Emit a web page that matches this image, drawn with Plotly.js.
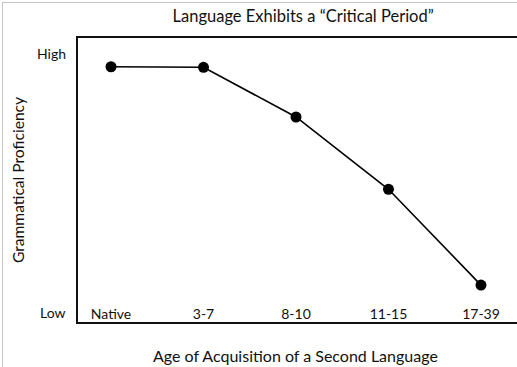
<!DOCTYPE html>
<html><head><meta charset="utf-8">
<script src="https://cdn.plot.ly/plotly-3.0.1.min.js"></script>
<style>
html,body{margin:0;padding:0;background:#fff;overflow:hidden;width:517px;height:367px;}
#frame{position:absolute;left:2px;top:2px;width:515px;height:365px;border-left:1px solid #c4c4c4;border-top:1px solid #c4c4c4;}
#chart{position:absolute;left:0;top:0;width:530px;height:367px;}
</style></head>
<body>
<div id="frame"></div>
<div id="chart"></div>
<script>
const ageGroups = ["Native", "3-7", "8-10", "11-15", "17-39"];
const proficiency = [9.47, 9.45, 7.53, 4.74, 1.04];
const yTickVals = [0, 10];
const yTickText = ["Low", "High"];

const font = "Lato, 'Open Sans', sans-serif";

const yLabels = yTickVals.map((v, i) => ({
  xref: "paper", yref: "y", x: 0, y: v,
  xanchor: "right", yanchor: "middle", xshift: -10,
  text: yTickText[i], showarrow: false,
  font: {family: font, size: 14, color: "#111"}
}));

const xTitle = {
  xref: "paper", yref: "paper", x: 0.482, y: 0, yshift: -33,
  xanchor: "center", yanchor: "middle",
  text: "Age of Acquisition of a Second Language", showarrow: false,
  font: {family: font, size: 16, color: "#111"}
};

Plotly.newPlot("chart", [{
  x: [0, 1, 2, 3, 4],
  y: proficiency,
  type: "scatter",
  mode: "lines+markers",
  line: {color: "#000", width: 1.6},
  marker: {color: "#000", size: 11},
  hoverinfo: "skip"
}], {
  width: 530, height: 367,
  margin: {l: 78, r: 0, t: 38, b: 45},
  paper_bgcolor: "rgba(0,0,0,0)",
  plot_bgcolor: "rgba(0,0,0,0)",
  showlegend: false,
  annotations: yLabels.concat([xTitle]),
  title: {text: "Language Exhibits a \u201cCritical Period\u201d", x: 0.572, xanchor: "center", y: 0.955, yanchor: "middle", font: {family: font, size: 16.5, color: "#111"}},
  xaxis: {
    range: [-0.357, 4.53],
    tickvals: [0, 1, 2, 3, 4],
    ticktext: ageGroups,
    ticklabelposition: "inside",
    ticks: "",
    showgrid: false, zeroline: false,
    showline: true, linecolor: "#111", linewidth: 2, mirror: true,
    tickfont: {family: font, size: 14, color: "#111"},
    fixedrange: true
  },
  yaxis: {
    range: [-0.386, 10.58],
    showticklabels: false,
    ticks: "",
    showgrid: false, zeroline: false,
    showline: true, linecolor: "#111", linewidth: 2,
    title: {text: "Grammatical Proficiency", standoff: 48, font: {family: font, size: 15.6, color: "#111"}},
    fixedrange: true
  }
}, {displayModeBar: false, staticPlot: true});
</script>
</body></html>
